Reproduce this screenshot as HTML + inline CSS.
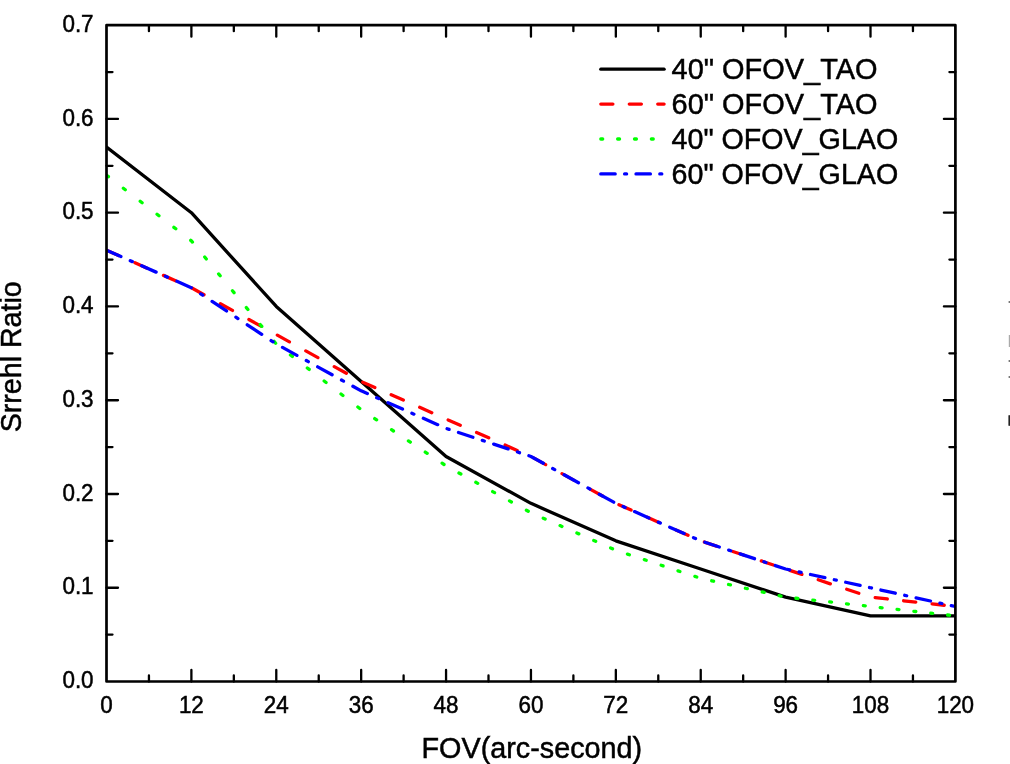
<!DOCTYPE html>
<html lang="en"><head><meta charset="utf-8"><title>Strehl Ratio vs FOV</title>
<style>html,body{margin:0;padding:0;background:#fff;}body{width:1010px;height:764px;overflow:hidden;}svg{display:block;}text{font-family:'Liberation Sans', Arial, Helvetica, sans-serif;fill:#000;stroke:#000;stroke-width:0.5px;}</style></head><body>
<svg width="1010" height="764" viewBox="0 0 1010 764">
<rect x="0" y="0" width="1010" height="764" fill="#ffffff"/>
<clipPath id="plotclip"><rect x="106.50" y="25.20" width="848.90" height="656.30"/></clipPath>
<g fill="none" stroke-width="3.30" stroke-linecap="round" stroke-linejoin="round" clip-path="url(#plotclip)">
<path stroke="#000000" d="M106.50 147.08 L191.39 212.71 L276.28 306.47 L361.17 381.48 L446.06 456.48 L530.95 503.36 L615.84 540.86 L700.73 568.99 L785.62 597.12 L870.51 615.87 L955.40 615.87"/>
<path stroke="#ff0000" d="M106.50 250.22L118.60 255.56 M134.97 262.79L147.07 268.14 M163.44 275.37L175.54 280.72 M191.91 288.01L204.01 294.69 M220.38 303.73L232.48 310.41 M248.85 319.45L260.95 326.13 M277.32 335.17L289.42 341.85 M305.79 350.89L317.89 357.58 M334.26 366.62L346.36 373.30 M362.73 382.17L374.83 387.51 M391.20 394.74L403.30 400.09 M419.67 407.32L431.77 412.67 M448.14 419.90L460.24 425.24 M476.61 432.48L488.71 437.82 M505.08 445.05L517.18 450.40 M533.55 457.92L545.65 464.60 M562.02 473.64L574.12 480.32 M590.49 489.36L602.59 496.04 M618.96 504.74L631.06 510.09 M647.43 517.32L659.53 522.66 M675.90 529.89L688.00 535.24 M704.37 542.07L716.47 546.08 M732.84 551.50L744.94 555.51 M761.31 560.94L773.41 564.95 M789.78 570.37L801.88 574.38 M818.25 579.80L830.35 583.81 M846.72 589.24L858.82 593.25 M875.19 597.64L887.29 598.97 M903.66 600.78L915.76 602.12 M932.13 603.92L944.23 605.26"/>
<path stroke="#00ff00" d="M106.50 175.21L108.40 176.68 M123.35 188.24L125.25 189.71 M140.20 201.27L142.10 202.73 M157.05 214.29L158.95 215.76 M173.90 227.32L175.80 228.79 M190.75 240.35L191.39 240.84L192.43 242.10 M204.73 257.05L206.30 258.95 M218.60 273.90L220.17 275.80 M232.47 290.75L234.04 292.65 M246.34 307.60L247.90 309.50 M260.21 324.45L261.77 326.35 M274.08 341.30L275.64 343.20 M290.46 354.93L292.36 356.40 M307.31 367.96L309.21 369.43 M324.16 380.99L326.06 382.46 M341.01 394.02L342.91 395.48 M357.86 407.04L359.76 408.51 M374.71 418.57L376.61 419.83 M391.56 429.74L393.46 431.00 M408.41 440.91L410.31 442.17 M425.26 452.07L427.16 453.33 M442.11 463.24L444.01 464.50 M458.96 472.98L460.86 474.03 M475.81 482.29L477.71 483.33 M492.66 491.59L494.56 492.64 M509.51 500.90L511.41 501.95 M526.36 510.20L528.26 511.25 M543.21 518.15L545.11 518.99 M560.06 525.60L561.96 526.44 M576.91 533.04L578.81 533.88 M593.76 540.48L595.66 541.32 M610.61 547.93L612.51 548.77 M627.46 554.09L629.36 554.72 M644.31 559.67L646.21 560.30 M661.16 565.26L663.06 565.88 M678.01 570.84L679.91 571.47 M694.86 576.42L696.76 577.05 M711.71 580.79L713.61 581.21 M728.56 584.51L730.46 584.93 M745.41 588.24L747.31 588.66 M762.26 591.96L764.16 592.38 M779.11 595.68L781.01 596.10 M795.96 598.26L797.86 598.47 M812.81 600.12L814.71 600.33 M829.66 601.98L831.56 602.19 M846.51 603.84L848.41 604.05 M863.36 605.70L865.26 605.91 M880.21 607.57L882.11 607.78 M897.06 609.43L898.96 609.64 M913.91 611.29L915.81 611.50 M930.76 613.15L932.66 613.36 M947.61 615.01L949.51 615.22"/>
<path stroke="#0000ff" d="M106.50 250.22L120.90 256.58 M130.30 260.73L132.30 261.62 M141.70 265.77L156.10 272.13 M165.50 276.28L167.50 277.17 M176.90 281.32L191.30 287.68 M200.70 293.89L202.70 295.21 M212.10 301.44L226.50 310.99 M235.90 317.22L237.90 318.54 M247.30 324.77L261.70 334.31 M271.10 340.54L273.10 341.87 M282.50 347.41L296.90 355.36 M306.30 360.55L308.30 361.66 M317.70 366.85L332.10 374.80 M341.50 379.99L343.50 381.10 M352.90 386.29L361.17 390.85L367.30 393.56 M376.70 397.71L378.70 398.60 M388.10 402.75L402.50 409.11 M411.90 413.26L413.90 414.15 M423.30 418.30L437.70 424.66 M447.10 428.70L449.10 429.36 M458.50 432.48L472.90 437.25 M482.30 440.36L484.30 441.03 M493.70 444.14L508.10 448.91 M517.50 452.03L519.50 452.69 M528.90 455.80L530.95 456.48L543.30 463.30 M552.70 468.49L554.70 469.60 M564.10 474.79L578.50 482.74 M587.90 487.93L589.90 489.04 M599.30 494.23L613.70 502.18 M623.10 506.57L625.10 507.45 M634.50 511.61L648.90 517.97 M658.30 522.12L660.30 523.00 M669.70 527.16L684.10 533.52 M693.50 537.67L695.50 538.55 M704.90 542.25L719.30 547.02 M728.70 550.13L730.70 550.79 M740.10 553.91L754.50 558.68 M763.90 561.79L765.90 562.46 M775.30 565.57L785.62 568.99L789.70 569.89 M799.10 571.97L801.10 572.41 M810.50 574.49L824.90 577.67 M834.30 579.74L836.30 580.19 M845.70 582.26L860.10 585.44 M869.50 587.52L870.51 587.74L871.50 587.96 M880.90 590.04L895.30 593.22 M904.70 595.30L906.70 595.74 M916.10 597.81L930.50 600.99 M939.90 603.07L941.90 603.51 M951.30 605.59L955.40 606.49"/>
</g>
<path fill="none" stroke="#000" stroke-width="2.30" stroke-linecap="round" d="M148.94 681.50V675.50M148.94 25.20V31.20M191.39 681.50V670.00M191.39 25.20V36.70M233.83 681.50V675.50M233.83 25.20V31.20M276.28 681.50V670.00M276.28 25.20V36.70M318.73 681.50V675.50M318.73 25.20V31.20M361.17 681.50V670.00M361.17 25.20V36.70M403.61 681.50V675.50M403.61 25.20V31.20M446.06 681.50V670.00M446.06 25.20V36.70M488.50 681.50V675.50M488.50 25.20V31.20M530.95 681.50V670.00M530.95 25.20V36.70M573.39 681.50V675.50M573.39 25.20V31.20M615.84 681.50V670.00M615.84 25.20V36.70M658.28 681.50V675.50M658.28 25.20V31.20M700.73 681.50V670.00M700.73 25.20V36.70M743.17 681.50V675.50M743.17 25.20V31.20M785.62 681.50V670.00M785.62 25.20V36.70M828.07 681.50V675.50M828.07 25.20V31.20M870.51 681.50V670.00M870.51 25.20V36.70M912.95 681.50V675.50M912.95 25.20V31.20M106.50 634.62H112.50M955.40 634.62H949.40M106.50 587.74H118.00M955.40 587.74H943.90M106.50 540.86H112.50M955.40 540.86H949.40M106.50 493.99H118.00M955.40 493.99H943.90M106.50 447.11H112.50M955.40 447.11H949.40M106.50 400.23H118.00M955.40 400.23H943.90M106.50 353.35H112.50M955.40 353.35H949.40M106.50 306.47H118.00M955.40 306.47H943.90M106.50 259.59H112.50M955.40 259.59H949.40M106.50 212.71H118.00M955.40 212.71H943.90M106.50 165.84H112.50M955.40 165.84H949.40M106.50 118.96H118.00M955.40 118.96H943.90M106.50 72.08H112.50M955.40 72.08H949.40"/>
<rect x="106.50" y="25.20" width="848.90" height="656.30" fill="none" stroke="#000" stroke-width="2.70" stroke-linejoin="round"/>
<g font-size="23">
<text x="100.27" y="712.50" textLength="12.47" lengthAdjust="spacingAndGlyphs">0</text>
<text x="178.92" y="712.50" textLength="24.94" lengthAdjust="spacingAndGlyphs">12</text>
<text x="263.81" y="712.50" textLength="24.94" lengthAdjust="spacingAndGlyphs">24</text>
<text x="348.70" y="712.50" textLength="24.94" lengthAdjust="spacingAndGlyphs">36</text>
<text x="433.59" y="712.50" textLength="24.94" lengthAdjust="spacingAndGlyphs">48</text>
<text x="518.48" y="712.50" textLength="24.94" lengthAdjust="spacingAndGlyphs">60</text>
<text x="603.37" y="712.50" textLength="24.94" lengthAdjust="spacingAndGlyphs">72</text>
<text x="688.26" y="712.50" textLength="24.94" lengthAdjust="spacingAndGlyphs">84</text>
<text x="773.15" y="712.50" textLength="24.94" lengthAdjust="spacingAndGlyphs">96</text>
<text x="851.81" y="712.50" textLength="37.40" lengthAdjust="spacingAndGlyphs">108</text>
<text x="936.70" y="712.50" textLength="37.40" lengthAdjust="spacingAndGlyphs">120</text>
<text x="62.43" y="688.20" textLength="31.17" lengthAdjust="spacingAndGlyphs">0.0</text>
<text x="62.43" y="594.44" textLength="31.17" lengthAdjust="spacingAndGlyphs">0.1</text>
<text x="62.43" y="500.69" textLength="31.17" lengthAdjust="spacingAndGlyphs">0.2</text>
<text x="62.43" y="406.93" textLength="31.17" lengthAdjust="spacingAndGlyphs">0.3</text>
<text x="62.43" y="313.17" textLength="31.17" lengthAdjust="spacingAndGlyphs">0.4</text>
<text x="62.43" y="219.41" textLength="31.17" lengthAdjust="spacingAndGlyphs">0.5</text>
<text x="62.43" y="125.66" textLength="31.17" lengthAdjust="spacingAndGlyphs">0.6</text>
<text x="62.43" y="31.90" textLength="31.17" lengthAdjust="spacingAndGlyphs">0.7</text>
</g>
<text x="421.50" y="757.90" font-size="29.6" textLength="220.6" lengthAdjust="spacingAndGlyphs">FOV(arc-second)</text>
<text transform="translate(20.70 356.80) rotate(-90)" x="-75.5" y="0" font-size="29.6" textLength="151" lengthAdjust="spacingAndGlyphs">Srrehl Ratio</text>
<g fill="none" stroke-width="3.30" stroke-linecap="round">
<path stroke="#000000" d="M600.80 69.20 L664.10 69.20"/>
<path stroke="#ff0000" d="M600.80 104.10L612.90 104.10 M629.27 104.10L641.37 104.10 M657.74 104.10L664.10 104.10"/>
<path stroke="#00ff00" d="M600.80 139.00L602.70 139.00 M617.65 139.00L619.55 139.00 M634.50 139.00L636.40 139.00 M651.35 139.00L653.25 139.00"/>
<path stroke="#0000ff" d="M600.80 173.90L615.20 173.90 M624.60 173.90L626.60 173.90 M636.00 173.90L650.40 173.90 M659.80 173.90L661.80 173.90"/>
</g>
<g font-size="29.5">
<text x="671.60" y="79.00" textLength="205.9" lengthAdjust="spacingAndGlyphs">40&quot; OFOV_TAO</text>
<text x="671.60" y="113.90" textLength="205.9" lengthAdjust="spacingAndGlyphs">60&quot; OFOV_TAO</text>
<text x="671.60" y="148.80" textLength="226.6" lengthAdjust="spacingAndGlyphs">40&quot; OFOV_GLAO</text>
<text x="671.60" y="183.70" textLength="226.6" lengthAdjust="spacingAndGlyphs">60&quot; OFOV_GLAO</text>
</g>
<g><rect x="1008.6" y="301" width="1.4" height="2" fill="#777"/><rect x="1008.8" y="335" width="1.2" height="12" fill="#aaa"/><rect x="1008.6" y="360" width="1.4" height="2" fill="#777"/><rect x="1008.6" y="376" width="1.4" height="2" fill="#777"/><rect x="1008.4" y="415" width="1.6" height="11" rx="0.8" fill="#222"/></g>
</svg></body></html>
